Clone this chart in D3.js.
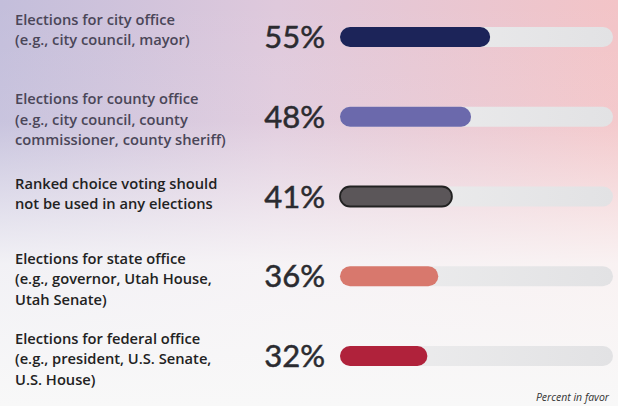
<!DOCTYPE html>
<html>
<head>
<meta charset="utf-8">
<script src="https://cdn.jsdelivr.net/npm/d3@7"></script>
<style>
  html, body { margin: 0; padding: 0; }
  body { width: 618px; height: 406px; overflow: hidden; }
</style>
</head>
<body>
<svg id="chart"></svg>
<script>
const W = 618, H = 406;

const labels = [
    ["Elections for city office", "(e.g., city council, mayor)"],
    ["Elections for county office", "(e.g., city council, county", "commissioner, county sheriff)"],
    ["Ranked choice voting should", "not be used in any elections"],
    ["Elections for state office", "(e.g., governor, Utah House,", "Utah Senate)"],
    ["Elections for federal office", "(e.g., president, U.S. Senate,", "U.S. House)"]
];
const values = [55, 48, 41, 36, 32];
const barColors = ["#1c2459", "#6b69ac", "#5b5659", "#d8786d", "#b0223b"];

const svg = d3.select("#chart").attr("width", W).attr("height", H);

// background: lavender -> pink, fading to white at the bottom
const defs = svg.append("defs");
const gh = defs.append("linearGradient").attr("id", "bgH").attr("x1", 0).attr("x2", 1).attr("y1", 0).attr("y2", 0);
gh.append("stop").attr("offset", "0%").attr("stop-color", "#c3bedb");
gh.append("stop").attr("offset", "45%").attr("stop-color", "#dfc9dc");
gh.append("stop").attr("offset", "100%").attr("stop-color", "#f3c4c7");
const gv = defs.append("linearGradient").attr("id", "bgV").attr("x1", 0).attr("x2", 0).attr("y1", 0).attr("y2", 1);
gv.append("stop").attr("offset", "0%").attr("stop-color", "#fafafa").attr("stop-opacity", 0);
gv.append("stop").attr("offset", "30%").attr("stop-color", "#fafafa").attr("stop-opacity", 0.1);
gv.append("stop").attr("offset", "65%").attr("stop-color", "#fafafa").attr("stop-opacity", 0.85);
gv.append("stop").attr("offset", "100%").attr("stop-color", "#f8f8f8").attr("stop-opacity", 1);
const gt = defs.append("linearGradient").attr("id", "track").attr("x1", 0).attr("x2", 1).attr("y1", 0).attr("y2", 0);
gt.append("stop").attr("offset", "0%").attr("stop-color", "#eeeeef");
gt.append("stop").attr("offset", "100%").attr("stop-color", "#e2e2e4");

svg.append("rect").attr("width", W).attr("height", H).attr("fill", "url(#bgH)");
svg.append("rect").attr("width", W).attr("height", H).attr("fill", "url(#bgV)");

const x = d3.scaleLinear().domain([0, 100]).range([340, 613]);
const y = d3.scalePoint().domain(d3.range(values.length)).range([37, 356]);
const barH = 20;

const rows = svg.selectAll(".row")
    .data(values.map((v, i) => ({ v, i, label: labels[i], color: barColors[i] })))
    .enter().append("g").attr("class", "row");

// track
rows.append("rect")
    .attr("x", x(0)).attr("y", d => y(d.i) - barH / 2)
    .attr("width", x(100) - x(0)).attr("height", barH)
    .attr("rx", barH / 2)
    .attr("fill", "url(#track)");

// value bar
rows.append("rect")
    .attr("x", x(0)).attr("y", d => y(d.i) - barH / 2)
    .attr("width", d => x(d.v) - x(0)).attr("height", barH)
    .attr("rx", barH / 2)
    .attr("fill", d => d.color)
    .attr("stroke", d => d.i === 2 ? "#222" : "none")
    .attr("stroke-width", 1.8);

// percent
rows.append("text")
    .attr("x", 325).attr("y", d => y(d.i) + 11)
    .attr("text-anchor", "end")
    .attr("font-family", "Lato, sans-serif")
    .attr("font-size", 31)
    .attr("fill", "#2b2b30")
    .attr("stroke", "#2b2b30")
    .attr("stroke-width", 0.5)
    .text(d => d.v + "%");

// labels (the two-line "ranked choice" label sits a bit lower)
rows.append("text")
    .attr("font-family", "'Open Sans', sans-serif")
    .attr("font-size", 14.7)
    .attr("font-weight", 600)
    .attr("fill", d => d.i < 2 ? "#4a4658" : "#222")
    .selectAll("tspan")
    .data(d => d.label.map((t, k) => ({ t, k, c: y(d.i) + (d.i === 2 ? 4.5 : 0) })))
    .enter().append("tspan")
    .attr("x", 15)
    .attr("y", d => d.c - 12.5 + d.k * 20.5)
    .text(d => d.t);

svg.append("text")
    .attr("x", 609).attr("y", 401)
    .attr("text-anchor", "end")
    .attr("font-family", "'Open Sans', sans-serif")
    .attr("font-style", "italic")
    .attr("font-size", 10.5)
    .attr("fill", "#333")
    .text("Percent in favor");
</script>
</body>
</html>
